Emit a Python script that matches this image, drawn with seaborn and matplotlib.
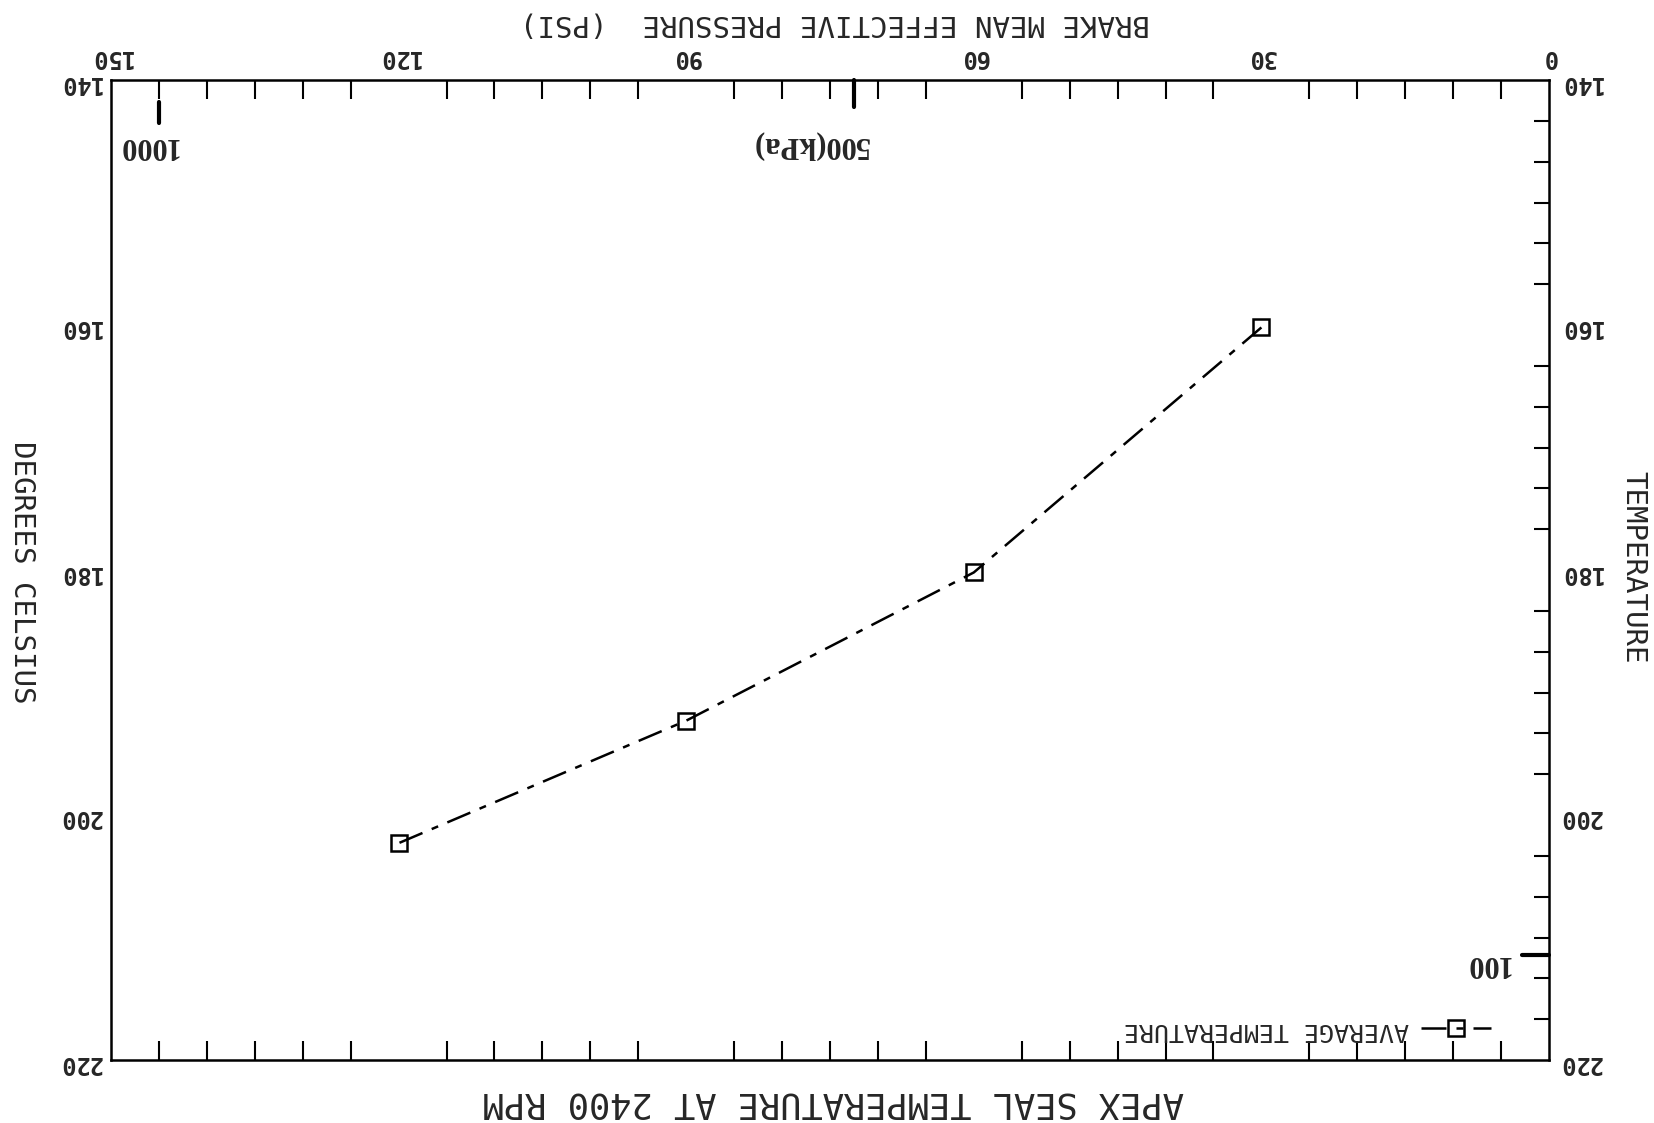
import numpy as np
import pandas as pd
import matplotlib
matplotlib.use('Agg')
import matplotlib.pyplot as plt
import seaborn as sns

# data (the scanned sheet is upside down, so everything is drawn rotated 180 deg)
bmep_psi = [120, 90, 60, 30]
avg_temp_c = [202.3, 192.3, 180.2, 160.2]
psi_labels = [0, 30, 60, 90, 120, 150]
temp_labels = [140, 160, 180, 200, 220]
kpa_marks = [1000, 500]
kpa_text = ['1000', '500(kPa)']
right_mark_temp = 211.4
right_mark_text = '100'

sns.set_style('white')
plt.rcParams['font.family'] = ['DejaVu Sans Mono']

fig = plt.figure(figsize=(16.54, 11.23), dpi=100)
ax = fig.add_axes([111/1654, 63/1123, 1438/1654, 980/1123])

df = pd.DataFrame({'psi': bmep_psi, 'temp': avg_temp_c})
sns.lineplot(data=df, x='psi', y='temp', ax=ax, color='black', lw=1.8,
             marker='s', markersize=12, markerfacecolor='none',
             markeredgecolor='black', markeredgewidth=1.8,
             label='AVERAGE TEMPERATURE')
line = ax.get_lines()[0]
line.set_linestyle((0, (10, 4, 2.8, 4)))

ax.set_xlim(150, 0)
ax.set_ylim(220, 140)
ax.set_xlabel('')
ax.set_ylabel('')

ax.set_xticks(psi_labels)
ax.set_xticks([p for p in range(5, 150, 5) if p % 30], minor=True)
ax.set_yticks(temp_labels)
ax.set_yticks([140 + 20 * k / 6 for k in range(1, 24) if k % 6], minor=True)
ax.xaxis.set_minor_formatter(plt.NullFormatter())
ax.yaxis.set_minor_formatter(plt.NullFormatter())

ax.tick_params(axis='x', which='major', length=0, top=True, bottom=False,
               labeltop=True, labelbottom=False, pad=8)
ax.tick_params(axis='x', which='minor', top=True, bottom=True, direction='in',
               length=14, width=1.5, color='black')
ax.tick_params(axis='y', which='major', length=0, left=True, right=True,
               labelleft=True, labelright=True, pad=7)
ax.tick_params(axis='y', which='minor', left=False, right=True, direction='in',
               length=11, width=1.5, color='black')
ax.tick_params(axis='both', which='major', labelrotation=180, labelsize=17)
for t in ax.xaxis.get_majorticklabels() + ax.yaxis.get_majorticklabels():
    t.set_fontweight('bold')
for t in ax.yaxis.get_ticklabels(which='major'):
    t.set_fontweight('bold')
for tick in ax.yaxis.get_major_ticks():
    tick.label2.set_fontweight('bold')
    tick.label2.set_rotation(180)

for s in ax.spines.values():
    s.set_color('black')
    s.set_linewidth(1.8)
ax.grid(False)

# kPa marks along the psi axis
serif = dict(family='Liberation Serif', fontweight='bold', fontsize=22)
kpa_psi = [k * 0.145038 for k in kpa_marks]
xt = ax.get_xaxis_transform()
ax.plot([kpa_psi[0], kpa_psi[0]], [0.9776, 0.9561], color='black', lw=3, transform=xt, clip_on=False)
ax.plot([kpa_psi[1], kpa_psi[1]], [1.0, 0.9724], color='black', lw=3, transform=xt, clip_on=False)
ax.annotate(kpa_text[0], xy=(kpa_psi[0], 1.0), xycoords=xt, xytext=(-8, -47.5),
            textcoords='offset points', ha='center', va='center', rotation=180, **serif)
ax.annotate(kpa_text[1], xy=(kpa_psi[1], 1.0), xycoords=xt, xytext=(-31.7, -46.8),
            textcoords='offset points', ha='center', va='center', rotation=180, **serif)

# mark on the right temperature axis
yt = ax.get_yaxis_transform()
ax.plot([0.9812, 1.0], [right_mark_temp, right_mark_temp], color='black', lw=3,
        transform=yt, clip_on=False)
ax.annotate(right_mark_text, xy=(1.0, right_mark_temp), xycoords=yt, xytext=(-44.6, -6.5),
            textcoords='offset points', ha='center', va='center', rotation=180, **serif)

leg = ax.legend(loc='center right', bbox_to_anchor=(0.96, 0.031), frameon=False,
                markerfirst=False, handlelength=2.8, handletextpad=0.5,
                borderpad=0, borderaxespad=0, prop=dict(family='DejaVu Sans Mono', size=18))
for t in leg.get_texts():
    t.set_rotation(180)

fig.text(835/1654, 1 - 24/1123, 'BRAKE MEAN EFFECTIVE PRESSURE  (PSI)', rotation=180,
         ha='center', va='center', fontsize=21)
fig.text(833/1654, 1 - 1103/1123, 'APEX SEAL TEMPERATURE AT 2400 RPM', rotation=180,
         ha='center', va='center', fontsize=25.5)
fig.text(22/1654, 1 - 572/1123, 'DEGREES CELSIUS', rotation=270,
         ha='center', va='center', fontsize=21)
fig.text(1633/1654, 1 - 567/1123, 'TEMPERATURE', rotation=270,
         ha='center', va='center', fontsize=21)

fig.savefig('out.png', dpi=100, facecolor='white')
